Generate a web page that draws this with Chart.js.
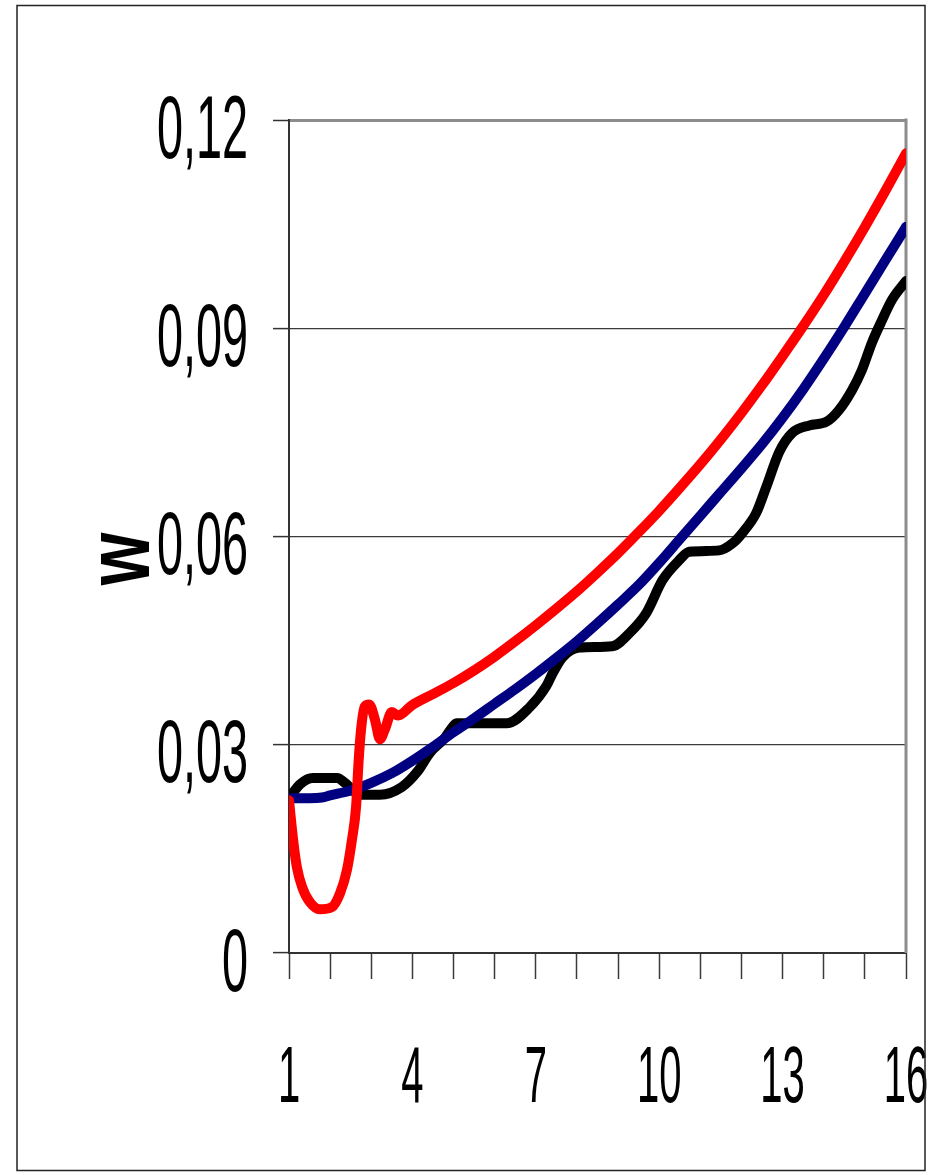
<!DOCTYPE html>
<html>
<head>
<meta charset="utf-8">
<script src="https://cdn.jsdelivr.net/npm/chart.js@4/dist/chart.umd.min.js"></script>
<style>
  html, body { margin: 0; padding: 0; background: #ffffff; }
  #wrap { width: 944px; height: 1175px; }
</style>
</head>
<body>
<div id="wrap"><canvas id="c" width="944" height="1175"></canvas></div>
<script>
// Axis labels
const xTickLabels = [1, 4, 7, 10, 13, 16];
const yTickValues = [0, 0.03, 0.06, 0.09, 0.12];
const yTickLabels = ['0', '0,03', '0,06', '0,09', '0,12'];
const yTitle = 'w';

// Red series
const redT = [1.00, 1.10, 1.19, 1.32, 1.51, 1.75, 2.04, 2.24, 2.41, 2.53, 2.63, 2.69, 2.75, 2.84, 2.95,
  3.09, 3.21, 3.33, 3.50, 3.65, 3.99, 4.5, 5, 5.5, 6, 6.5, 7, 7.5, 8, 8.5, 9, 9.5, 10, 10.5, 11,
  11.5, 12, 12.5, 13, 13.5, 14, 14.5, 15, 15.5, 16];
const redW = [0.0220, 0.0163, 0.0124, 0.0095, 0.0073, 0.0063, 0.0066, 0.0086, 0.0120, 0.0163, 0.0210,
  0.0274, 0.0321, 0.0355, 0.0358, 0.0336, 0.0308, 0.0322, 0.0347, 0.0342, 0.0357, 0.0373, 0.0389,
  0.0407, 0.0427, 0.0449, 0.0472, 0.0496, 0.0521, 0.0548, 0.0576, 0.0606, 0.0637, 0.0670, 0.0704,
  0.0740, 0.0778, 0.0818, 0.0860, 0.0903, 0.0948, 0.0996, 0.1046, 0.1098, 0.1152];

// Blue series
const blueT = [1, 1.5, 1.8, 2, 2.5, 3, 3.5, 4, 4.5, 5, 5.5, 6, 6.5, 7, 7.5, 8, 8.5, 9, 9.5, 10,
  10.5, 11, 11.5, 12, 12.5, 13, 13.5, 14, 14.5, 15, 15.5, 16];
const blueW = [0.0223, 0.0223, 0.0224, 0.0227, 0.0234, 0.0245, 0.0259, 0.0277, 0.0297, 0.0318, 0.0338,
  0.0359, 0.0380, 0.0402, 0.0425, 0.0449, 0.0475, 0.0502, 0.0530, 0.0562, 0.0596, 0.0630, 0.0664,
  0.0698, 0.0733, 0.0771, 0.0812, 0.0856, 0.0902, 0.0950, 0.0998, 0.1046];

// Black series
const blackT = [1.00, 1.27, 1.58, 2.17, 2.36, 2.72, 3.21, 3.74, 4.13, 4.42, 4.79, 4.98, 5.08, 6.29,
  6.85, 7.26, 7.41, 7.65, 8.06, 8.86, 9.28, 9.69, 10.08, 10.49, 10.73, 11.46, 11.78, 12.02, 12.36,
  12.60, 12.92, 13.23, 13.65, 14.06, 14.37, 14.69, 14.93, 15.17, 15.42, 15.66, 16.00];
const blackW = [0.0223, 0.0243, 0.0252, 0.0252, 0.0245, 0.0228, 0.0228, 0.0239, 0.0262, 0.0288, 0.0310,
  0.0326, 0.0331, 0.0331, 0.0354, 0.0385, 0.0403, 0.0426, 0.0440, 0.0442, 0.0461, 0.0490, 0.0537,
  0.0566, 0.0578, 0.0580, 0.0590, 0.0605, 0.0634, 0.0671, 0.0722, 0.0749, 0.0760, 0.0765, 0.0782,
  0.0811, 0.0840, 0.0879, 0.0912, 0.0941, 0.0968];

const toPoints = (ts, ws) => ts.map((t, i) => ({ x: t, y: ws[i] }));

const FONT = '"Liberation Sans", Arial, sans-serif';

// Tall, narrow axis text, plot border and outer frame
const decor = {
  id: 'decor',
  beforeDatasetsDraw(chart) {
    const { ctx, chartArea: a } = chart;
    ctx.save();
    ctx.strokeStyle = '#8c8c8c';
    ctx.lineWidth = 3;
    ctx.beginPath();
    ctx.moveTo(a.right, a.top - 1.5);
    ctx.lineTo(a.right, a.bottom);
    ctx.stroke();
    ctx.restore();
  },
  afterDraw(chart) {
    const { ctx } = chart;
    const xs = chart.scales.x, ys = chart.scales.y;
    ctx.save();
    ctx.fillStyle = '#000';
    ctx.textBaseline = 'alphabetic';

    ctx.font = '80px ' + FONT;
    ctx.textAlign = 'center';
    xTickLabels.forEach(v => {
      ctx.save();
      ctx.translate(xs.getPixelForValue(v), 1102);
      ctx.scale(0.5, 1);
      ctx.fillText(String(v), 0, 0);
      ctx.restore();
    });

    ctx.font = '89px ' + FONT;
    ctx.textAlign = 'right';
    yTickValues.forEach((v, i) => {
      ctx.save();
      ctx.translate(248, ys.getPixelForValue(v) + 37.5);
      ctx.scale(0.526, 1);
      ctx.fillText(yTickLabels[i], 0, 0);
      ctx.restore();
    });

    ctx.save();
    ctx.font = 'bold 90px ' + FONT;
    ctx.textAlign = 'center';
    ctx.translate(149, 559);
    ctx.rotate(-Math.PI / 2);
    ctx.scale(0.75, 1);
    ctx.fillText(yTitle, 0, 0);
    ctx.restore();

    ctx.strokeStyle = '#222';
    ctx.lineWidth = 1.5;
    ctx.strokeRect(17, 5.5, 908, 1165);
    ctx.restore();
  }
};

new Chart(document.getElementById('c'), {
  type: 'line',
  data: {
    datasets: [
      { data: toPoints(redT, redW), borderColor: '#ff0000' },
      { data: toPoints(blueT, blueW), borderColor: '#000080' },
      { data: toPoints(blackT, blackW), borderColor: '#000000' }
    ]
  },
  options: {
    responsive: false,
    animation: false,
    devicePixelRatio: 1,
    layout: { padding: { top: 120, right: 38, left: 0, bottom: 0 } },
    elements: {
      line: { borderWidth: 10, cubicInterpolationMode: 'monotone', borderCapStyle: 'round', borderJoinStyle: 'round', fill: false },
      point: { radius: 0, hoverRadius: 0 }
    },
    plugins: { legend: { display: false }, tooltip: { enabled: false } },
    scales: {
      x: {
        type: 'linear',
        min: 1, max: 16,
        afterFit(s) { s.height = 222; },
        ticks: { stepSize: 1, display: false, autoSkip: false },
        grid: { drawOnChartArea: false, tickLength: 26, tickColor: '#3a3a3a', tickWidth: 1.5 },
        border: { color: '#333', width: 2 }
      },
      y: {
        type: 'linear',
        min: 0, max: 0.12,
        afterFit(s) { s.width = 289; },
        ticks: { stepSize: 0.03, display: false },
        grid: {
          tickLength: 16,
          tickColor: '#333',
          tickWidth: 1.5,
          color: c => (Math.abs(c.tick.value - 0.12) < 1e-9 ? '#8c8c8c' : '#3a3a3a'),
          lineWidth: c => (Math.abs(c.tick.value - 0.12) < 1e-9 ? 3 : 1.2)
        },
        border: { color: '#333', width: 2 }
      }
    }
  },
  plugins: [decor]
});
</script>
</body>
</html>
